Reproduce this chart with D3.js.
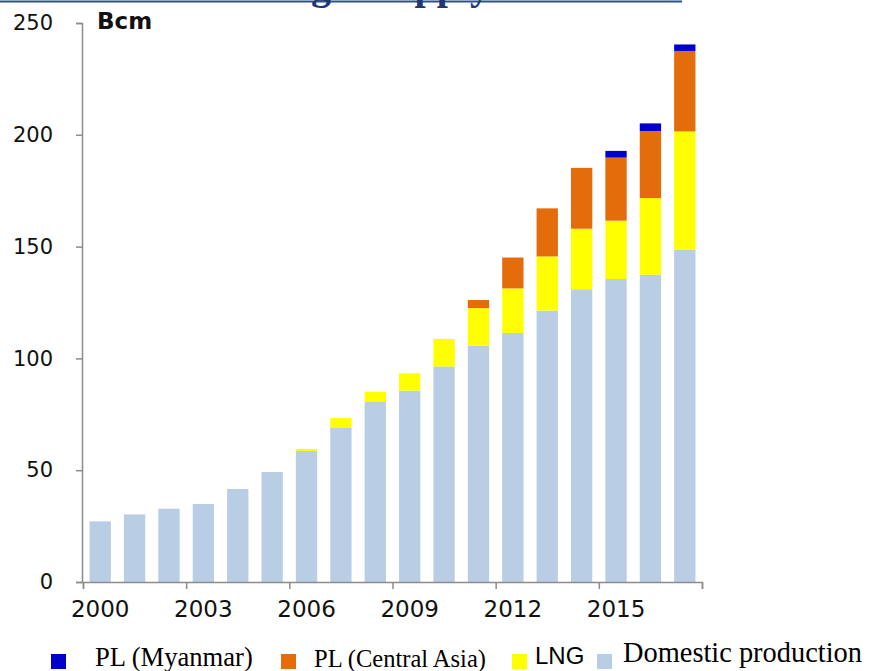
<!DOCTYPE html>
<html>
<head>
<meta charset="utf-8">
<script src="https://cdn.jsdelivr.net/npm/d3@7"></script>
<style>
  body { margin: 0; background: #fff; }
  svg { display: block; }
</style>
</head>
<body>
<svg id="chart" width="869" height="671"></svg>
<script>
// values in Bcm
var years = ["2000","2001","2002","2003","2004","2005","2006","2007","2008",
             "2009","2010","2011","2012","2013","2014","2015","2016","2017"]
var domestic = [27.1, 30.2, 32.8, 34.9, 41.6, 49.2, 58.6, 69.1, 80.5,
                85.6, 96.4, 105.7, 111.4, 121.4, 130.9, 135.5, 137.4, 148.7]
var lng = [0, 0, 0, 0, 0, 0, 0.9, 4.2, 4.6,
           7.7, 12.3, 16.8, 19.9, 24.2, 27.1, 26.1, 34.3, 52.8]
var centralAsia = [0, 0, 0, 0, 0, 0, 0, 0, 0,
                   0, 0, 3.6, 13.8, 21.5, 27.2, 28.2, 30.0, 36.0]
var myanmar = [0, 0, 0, 0, 0, 0, 0, 0, 0,
               0, 0, 0, 0, 0, 0, 3.0, 3.4, 2.9]
var yTicks = [0, 50, 100, 150, 200, 250]
var xLabelYears = ["2000","2003","2006","2009","2012","2015"]

var seriesKeys = ["domestic", "lng", "centralAsia", "myanmar"]
var colors = {
    domestic: "#b9cde5",
    lng: "#ffff00",
    centralAsia: "#e46c0a",
    myanmar: "#0000c8"
}

var table = years.map(function(y, i) {
    return {year: y, domestic: domestic[i], lng: lng[i], centralAsia: centralAsia[i], myanmar: myanmar[i]}
})

var svg = d3.select("#chart")
var dims = {left: 83, right: 702, top: 23, bottom: 582}
var axisColor = "#8c8c8c"

// title, cut by the top edge as in the source picture
svg.append("line")
   .attr("x1", 0).attr("x2", 682)
   .attr("y1", 1.5).attr("y2", 1.5)
   .attr("stroke", "#2f4f8f")
   .attr("stroke-width", 2)
svg.append("text")
   .attr("x", 490)
   .attr("y", -1)
   .attr("text-anchor", "end")
   .attr("font-family", "Liberation Serif")
   .attr("font-weight", "bold")
   .attr("font-size", 40)
   .attr("fill", "#1f3870")
   .text("Natural gas supply")

var xScale = d3.scaleBand()
               .domain(years)
               .range([dims.left, dims.right])
               .paddingInner(0.38)
               .paddingOuter(0.19)
var yScale = d3.scaleLinear()
               .domain([0, 250])
               .range([dims.bottom, dims.top])

var stacked = d3.stack().keys(seriesKeys)(table)

svg.append("g")
   .selectAll("g")
   .data(stacked)
   .enter()
   .append("g")
   .attr("fill", d => colors[d.key])
   .selectAll("rect")
   .data(d => d.filter(p => p[1] - p[0] > 0))
   .enter()
   .append("rect")
   .attr("x", d => xScale(d.data.year))
   .attr("y", d => yScale(d[1]))
   .attr("width", xScale.bandwidth())
   .attr("height", d => yScale(d[0]) - yScale(d[1]))

// y axis
var yAxis = svg.append("g")
   .attr("transform", `translate(${dims.left - 1},0)`)
   .call(d3.axisLeft(yScale).tickValues(yTicks).tickSize(6).tickPadding(23))
yAxis.select(".domain").attr("stroke", axisColor).attr("stroke-width", 1.5)
yAxis.selectAll(".tick line").attr("stroke", axisColor).attr("stroke-width", 1.5)
yAxis.selectAll(".tick text")
     .attr("font-family", "DejaVu Sans")
     .attr("font-size", 21)
     .attr("fill", "#111")

// x axis: tick marks between groups of three years
var step = xScale.step()
var boundary = d3.scaleLinear()
                 .domain([2000, 2018])
                 .range([dims.left, dims.left + 18 * step])
var xTicks = svg.append("g")
   .attr("transform", `translate(0,${dims.bottom})`)
   .call(d3.axisBottom(boundary).tickValues([2000,2003,2006,2009,2012,2015,2018]).tickSize(7).tickFormat(""))
xTicks.select(".domain").attr("stroke", axisColor).attr("stroke-width", 1.5)
xTicks.selectAll(".tick line").attr("stroke", axisColor).attr("stroke-width", 1.5)

// x labels centred on their bars
var xLabels = svg.append("g")
   .attr("transform", `translate(0,${dims.bottom})`)
   .call(d3.axisBottom(xScale).tickValues(xLabelYears).tickSize(0).tickPadding(19))
xLabels.select(".domain").remove()
xLabels.selectAll(".tick text")
       .attr("font-family", "DejaVu Sans")
       .attr("font-size", 23)
       .attr("fill", "#111")

// unit label
svg.append("text")
   .attr("x", 97)
   .attr("y", 29)
   .attr("font-family", "DejaVu Sans")
   .attr("font-weight", "bold")
   .attr("font-size", 23)
   .attr("fill", "#111")
   .text("Bcm")

// legend
var legend = [
    {key: "myanmar", label: "PL (Myanmar)", sx: 51, tx: 95, ty: 666, font: "Liberation Serif", size: 26.6},
    {key: "centralAsia", label: "PL (Central Asia)", sx: 281, tx: 314, ty: 667, font: "Liberation Serif", size: 24.5},
    {key: "lng", label: "LNG", sx: 512, tx: 535, ty: 664, font: "Liberation Sans", size: 24},
    {key: "domestic", label: "Domestic production", sx: 597, tx: 623, ty: 662, font: "Liberation Serif", size: 28.4}
]
var lg = svg.append("g")
lg.selectAll("rect")
  .data(legend)
  .enter()
  .append("rect")
  .attr("x", d => d.sx)
  .attr("y", 654)
  .attr("width", 15)
  .attr("height", 15)
  .attr("fill", d => colors[d.key])
lg.selectAll("text")
  .data(legend)
  .enter()
  .append("text")
  .attr("x", d => d.tx)
  .attr("y", d => d.ty)
  .attr("font-family", d => d.font)
  .attr("font-size", d => d.size)
  .attr("fill", "#000")
  .text(d => d.label)
</script>
</body>
</html>
